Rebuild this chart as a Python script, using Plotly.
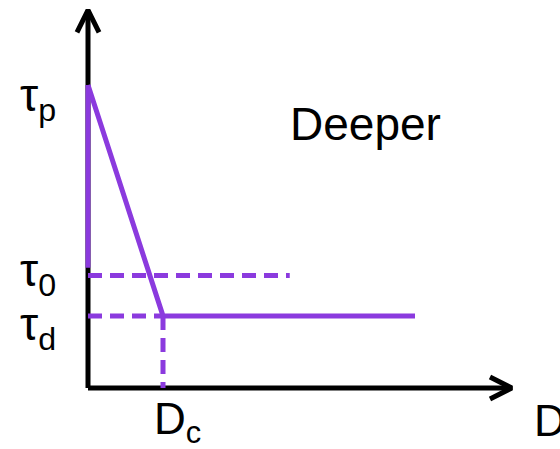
import plotly.graph_objects as go

# Slip-weakening friction law: strength drops linearly from peak to dynamic
tau_names = ["τ<sub>p</sub>", "τ<sub>0</sub>", "τ<sub>d</sub>"]
tau_p = 1.0      # peak strength
tau_0 = 0.371    # initial stress
tau_d = 0.238    # dynamic strength
D_c = 1.0        # critical slip distance
D_end = 4.36     # extent of the residual branch
D_stress = 2.69  # extent of the initial-stress marker
region_label = "Deeper"

purple = "rgb(139,58,222)"
black = "black"

fig = go.Figure()

# coordinate axes with open arrowheads
x_tip, y_tip = 5.65, 1.247
fig.add_trace(go.Scatter(x=[0, x_tip], y=[0, 0], mode="lines",
                         line=dict(color=black, width=5), hoverinfo="skip"))
fig.add_trace(go.Scatter(x=[0, 0], y=[0, y_tip], mode="lines",
                         line=dict(color=black, width=5), hoverinfo="skip"))
fig.add_trace(go.Scatter(x=[x_tip - 0.29, x_tip, x_tip - 0.29],
                         y=[0.036, 0, -0.036], mode="lines",
                         line=dict(color=black, width=5), hoverinfo="skip"))
fig.add_trace(go.Scatter(x=[-0.147, 0, 0.147],
                         y=[y_tip - 0.073, y_tip, y_tip - 0.073], mode="lines",
                         line=dict(color=black, width=5), hoverinfo="skip"))

# friction law: peak, linear weakening, residual strength
fig.add_trace(go.Scatter(x=[0, 0], y=[tau_0 + 0.026, tau_p], mode="lines",
                         line=dict(color=purple, width=5), hoverinfo="skip"))
fig.add_trace(go.Scatter(x=[0, D_c, D_end], y=[tau_p, tau_d, tau_d], mode="lines",
                         line=dict(color=purple, width=5), hoverinfo="skip"))

# dashed guides
dash = "14px,8px"
fig.add_trace(go.Scatter(x=[0, D_stress], y=[tau_0, tau_0], mode="lines",
                         line=dict(color=purple, width=5, dash=dash), hoverinfo="skip"))
fig.add_trace(go.Scatter(x=[0, D_c], y=[tau_d, tau_d], mode="lines",
                         line=dict(color=purple, width=5, dash=dash), hoverinfo="skip"))
fig.add_trace(go.Scatter(x=[D_c, D_c], y=[tau_d, 0], mode="lines",
                         line=dict(color=purple, width=5, dash=dash), hoverinfo="skip"))

family = "Liberation Sans, Arial, sans-serif"
tau_font = dict(family=family, size=46, color="black")
font = dict(family=family, size=44, color="black")
ann = []
for name, val, ys in zip(tau_names, [tau_p, tau_0, tau_d], [-14, 2, -12]):
    ann.append(dict(x=0, y=val, xref="x", yref="y", text=name, showarrow=False,
                    xanchor="right", yanchor="middle", xshift=-30, yshift=ys, font=tau_font))
ann.append(dict(x=D_c, y=0, xref="x", yref="y", text="D<sub>c</sub>", showarrow=False,
                xanchor="center", yanchor="top", xshift=14, yshift=-4, font=font))
ann.append(dict(x=x_tip, y=0, xref="x", yref="y", text="D", showarrow=False,
                xanchor="left", yanchor="top", xshift=20, yshift=-6, font=font))
ann.append(dict(x=3.7, y=0.87, xref="x", yref="y", text=region_label, showarrow=False,
                xanchor="center", yanchor="middle",
                font=dict(family=family, size=46, color="black")))

fig.update_layout(
    width=560, height=449,
    margin=dict(l=0, r=0, t=0, b=0),
    paper_bgcolor="white", plot_bgcolor="white",
    showlegend=False,
    xaxis=dict(range=[-1.1733, 6.2933], visible=False, fixedrange=True),
    yaxis=dict(range=[-0.2013, 1.2805], visible=False, fixedrange=True),
    annotations=ann,
)

fig.write_html("out.html")
